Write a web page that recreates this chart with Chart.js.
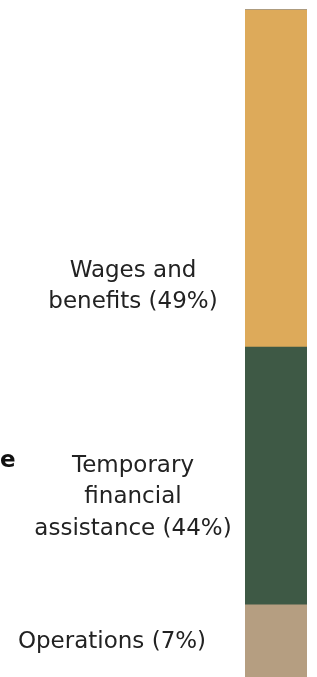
<!DOCTYPE html>
<html>
<head>
<meta charset="utf-8">
<script src="https://cdn.jsdelivr.net/npm/chart.js@4/dist/chart.umd.min.js"></script>
<style>
html,body{margin:0;padding:0;background:#fff;}
#wrap{position:relative;width:317px;height:677px;}
</style>
</head>
<body>
<div id="wrap"><canvas id="c" width="317" height="677"></canvas></div>
<script>
// Data
const categories = ["Spending"];
const seriesNames = ["Wages and benefits", "Temporary financial assistance", "Operations"];
const sharesShown = [49, 44, 7];            // percentages printed in the labels
const barValues = [50.6, 38.6, 10.8];       // segment lengths as drawn in the picture
const seriesColors = ["#DDAA5A", "#3E5945", "#B59E81"];
const labelLines = [
  ["Wages and", "benefits (49%)"],
  ["Temporary", "financial", "assistance (44%)"],
  ["Operations (7%)"]
];

// stacked from bottom: Operations, Temporary, Wages
const order = [2, 1, 0];
const datasets = order.map(i => ({
  label: seriesNames[i],
  data: [barValues[i]],
  backgroundColor: seriesColors[i],
  borderColor: "#9E978C",
  borderWidth: i === 0 ? {top: 1, left: 0, right: 0, bottom: 0} : 0,
  borderSkipped: false,
  barPercentage: 1,
  categoryPercentage: 1
}));

const labelPlugin = {
  id: "labels",
  afterDraw(chart) {
    const ctx = chart.ctx;
    ctx.save();
    ctx.fillStyle = "#222";
    ctx.font = "23px 'DejaVu Sans'";
    ctx.textAlign = "center";
    ctx.textBaseline = "alphabetic";
    const place = [
      {x: 133, y: 277, lh: 31},
      {x: 133, y: 471.5, lh: 31.7},
      {x: 112, y: 648, lh: 31}
    ];
    labelLines.forEach((lines, i) => {
      lines.forEach((t, k) => ctx.fillText(t, place[i].x, place[i].y + k * place[i].lh));
    });
    ctx.font = "bold 23px 'DejaVu Sans'";
    ctx.textAlign = "right";
    ctx.fillStyle = "#111";
    ctx.fillText("e", 15.5, 467);
    ctx.restore();
  }
};

new Chart(document.getElementById("c"), {
  type: "bar",
  data: {labels: categories, datasets},
  options: {
    responsive: false,
    animation: false,
    layout: {padding: {left: 245, right: 10, top: 9, bottom: 0}},
    plugins: {legend: {display: false}, tooltip: {enabled: false}},
    scales: {
      x: {stacked: true, display: false},
      y: {stacked: true, display: false, min: 0, max: 100}
    }
  },
  plugins: [labelPlugin]
});
</script>
</body>
</html>
